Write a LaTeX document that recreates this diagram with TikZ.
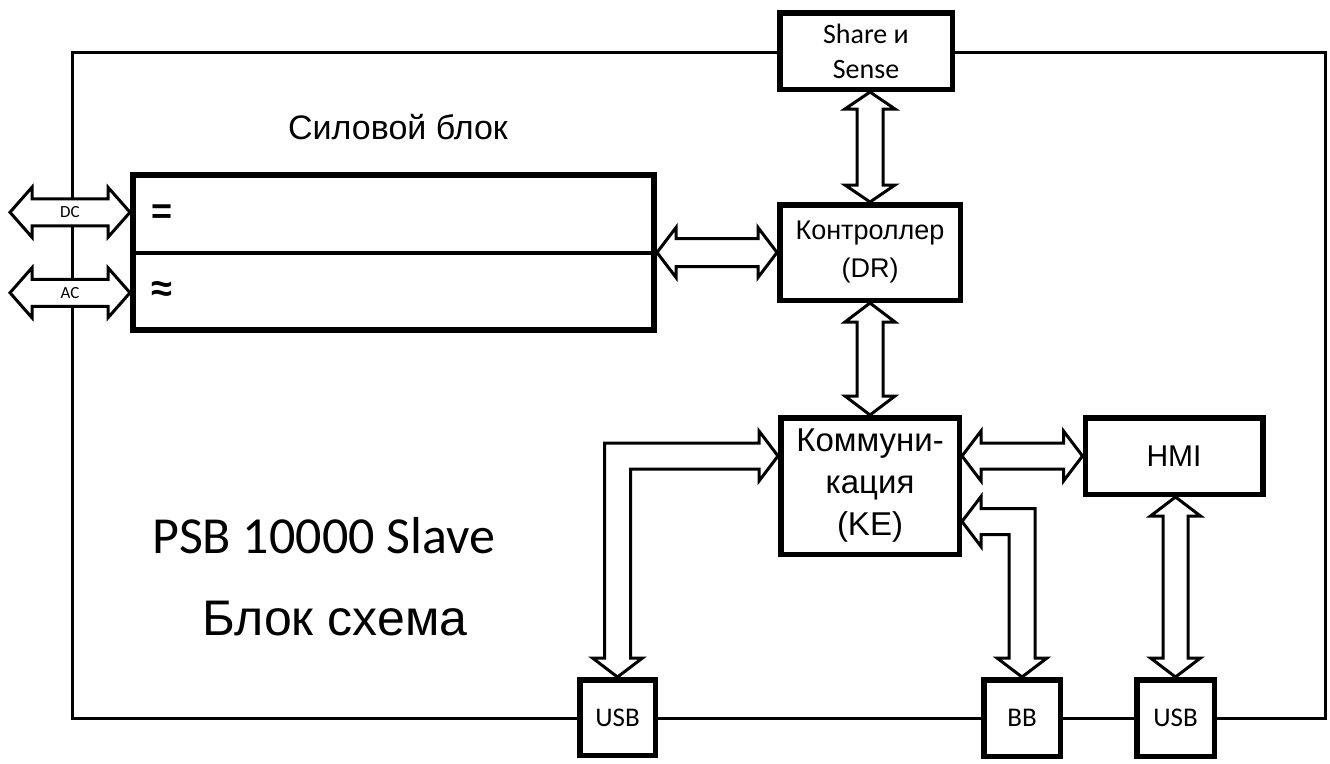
\documentclass[tikz,border=0pt]{standalone}
\usepackage{fontspec}
\newfontfamily\arialf{Liberation Sans}
\newfontfamily\calf{Carlito}
\usetikzlibrary{calc}
\tikzset{
  box/.style={draw, fill=white, line width=5.5pt, inner sep=0pt, align=center},
  barrow/.style={draw, fill=white, line width=3pt, line join=miter},
  frameline/.style={line width=3pt},
}
\newcommand{\blockarrow}[5]{%
  \coordinate (ba-a) at (#1);
  \coordinate (ba-b) at (#2);
  \coordinate (ba-ca) at ($(ba-a)!#3!(ba-b)$);
  \coordinate (ba-cb) at ($(ba-b)!#3!(ba-a)$);
  \draw[barrow] (ba-a) -- ($(ba-ca)!#4!90:(ba-b)$) -- ($(ba-ca)!#5!90:(ba-b)$)
    -- ($(ba-cb)!#5!-90:(ba-a)$) -- ($(ba-cb)!#4!-90:(ba-a)$) -- (ba-b)
    -- ($(ba-cb)!#4!90:(ba-a)$) -- ($(ba-cb)!#5!90:(ba-a)$)
    -- ($(ba-ca)!#5!-90:(ba-b)$) -- ($(ba-ca)!#4!-90:(ba-b)$) -- cycle;
}
\begin{document}
\begin{tikzpicture}[x=1pt,y=-1pt]
\useasboundingbox (0,0) rectangle (1330,763);
% enclosure
\draw[frameline] (72,52) rectangle (1325,718);

% boxes
\node[box, minimum width=172.5pt, minimum height=76.5pt,
      font=\calf\fontsize{28}{35}\selectfont] (share) at (866,51) {Share и\\Sense};
\node[box, minimum width=180.5pt, minimum height=95.5pt,
      font=\arialf\fontsize{27}{38}\selectfont] (ctl) at (870,252.5) {Контроллер\\(DR)};
\node[box, minimum width=178.5pt, minimum height=136.5pt,
      font=\arialf\fontsize{33}{42}\selectfont] (komm) at (870,486) {Коммуни-\\кация\\(KE)};
\node[box, minimum width=177.5pt, minimum height=76.5pt,
      font=\arialf\fontsize{30}{36}\selectfont] (hmi) at (1174,456) {HMI};
\node[box, minimum width=75.5pt, minimum height=75.5pt,
      font=\calf\fontsize{27}{32}\selectfont] (usb1) at (617.5,717.5) {USB};
\node[box, minimum width=76.5pt, minimum height=76.5pt,
      font=\calf\fontsize{27}{32}\selectfont] (bb) at (1022,718) {BB};
\node[box, minimum width=77.5pt, minimum height=76.5pt,
      font=\calf\fontsize{27}{32}\selectfont] (usb2) at (1175.5,718) {USB};
\node[box, line width=6pt, minimum width=521pt, minimum height=155pt] (power) at (393.5,252.5) {};
\draw[line width=4pt] (power.west) -- (power.east);

% texts
\node[font=\arialf\fontsize{34}{40}\selectfont, anchor=base] (title) at (398,139) {Силовой блок};
\node[font=\arialf\bfseries\fontsize{36}{40}\selectfont, anchor=west, inner sep=0pt] (eq) at (151,214) {=};
\node[font=\arialf\bfseries\fontsize{38}{40}\selectfont, anchor=west, inner sep=0pt] (apx) at (151,291) {≈};
\node[font=\calf\fontsize{52}{60}\selectfont, anchor=base west, inner sep=0pt] (psb) at (152,553) {PSB 10000 Slave};
\node[font=\arialf\fontsize{50}{60}\selectfont, anchor=base west, inner sep=0pt] (blk) at (202,635) {Блок схема};

% DC / AC arrows
\coordinate (dcR) at ($(power.west)!0.5!(power.north west)$);
\coordinate (acR) at ($(power.west)!0.5!(power.south west)$);
\coordinate (dcL) at (10,212);
\coordinate (acL) at (10,292);
\blockarrow{dcL |- dcR}{dcR}{22pt}{25pt}{13.5pt}
\node[font=\calf\fontsize{17}{20}\selectfont] (dclab) at ($(dcL |- dcR)!0.5!(dcR)$) {DC};
\blockarrow{acL |- acR}{acR}{22pt}{25pt}{13.5pt}
\node[font=\calf\fontsize{17}{20}\selectfont] (aclab) at ($(acL |- acR)!0.5!(acR)$) {AC};

% straight double arrows
\blockarrow{power.east |- ctl.west}{ctl.west}{19pt}{25pt}{14pt}
\blockarrow{ctl.north |- share.south}{ctl.north}{17pt}{25pt}{13pt}
\blockarrow{ctl.south}{komm.north}{19pt}{25pt}{13pt}
\blockarrow{komm.east |- hmi.west}{hmi.west}{19pt}{25pt}{13pt}
\blockarrow{hmi.south -| usb2.north}{usb2.north}{19pt}{25pt}{12.5pt}

% bent arrow USB - Kommunikation
\coordinate (k1) at (komm.west |- hmi.west);
\coordinate (u1) at (usb1.north);
\coordinate (c1) at (u1 |- k1);
\draw[barrow] (k1) -- ($(k1)+(-19,-25)$) -- ($(k1)+(-19,-13)$) -- ($(c1)+(-13,-13)$)
  -- ($(u1)+(-13,-19)$) -- ($(u1)+(-25,-19)$) -- (u1) -- ($(u1)+(25,-19)$)
  -- ($(u1)+(13,-19)$) -- ($(c1)+(13,13)$) -- ($(k1)+(-19,13)$) -- ($(k1)+(-19,25)$) -- cycle;

% bent arrow BB - Kommunikation
\coordinate (k2) at ($(komm.east)!0.5!(komm.south east)$);
\coordinate (b2) at (bb.north);
\coordinate (c2) at (b2 |- k2);
\draw[barrow] (k2) -- ($(k2)+(19,-25)$) -- ($(k2)+(19,-13)$) -- ($(c2)+(13,-13)$)
  -- ($(b2)+(13,-19)$) -- ($(b2)+(25,-19)$) -- (b2) -- ($(b2)+(-25,-19)$)
  -- ($(b2)+(-13,-19)$) -- ($(c2)+(-13,13)$) -- ($(k2)+(19,13)$) -- ($(k2)+(19,25)$) -- cycle;
\end{tikzpicture}
\end{document}
